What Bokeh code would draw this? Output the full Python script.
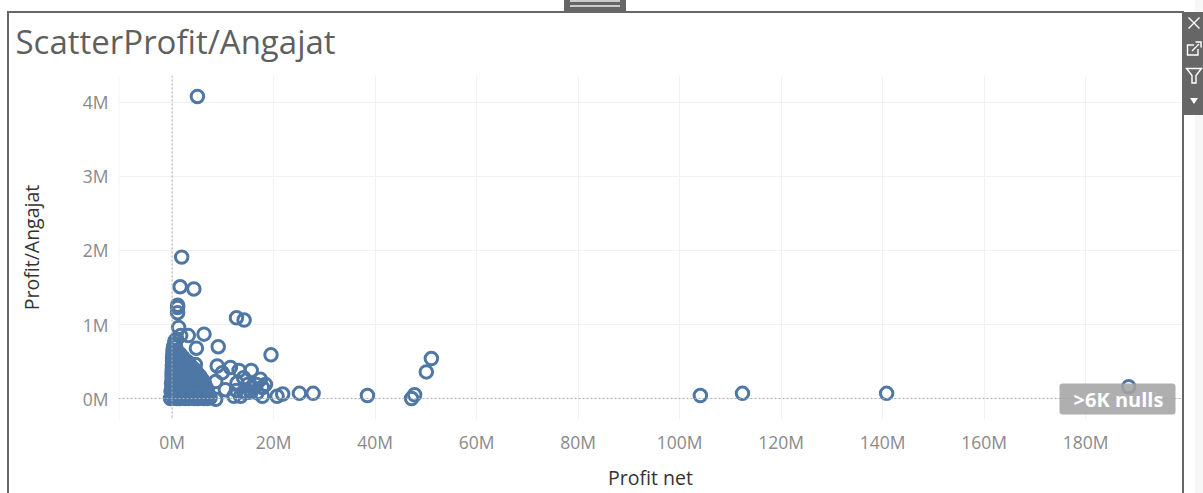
from urllib.parse import quote
from bokeh.plotting import figure
from bokeh.embed import file_html
from bokeh.resources import INLINE
from bokeh.models import Label, BoxAnnotation, Span, FixedTicker, Range1d, InlineStyleSheet

TITLE = "ScatterProfit/Angajat"
X_LABEL = "Profit net"
Y_LABEL = "Profit/Angajat"
NULLS = ">6K nulls"
x_ticks = [0, 20, 40, 60, 80, 100, 120, 140, 160, 180]
x_tick_labels = ["0M", "20M", "40M", "60M", "80M", "100M", "120M", "140M", "160M", "180M"]
y_ticks = [0, 1, 2, 3, 4]
y_tick_labels = ["0M", "1M", "2M", "3M", "4M"]

# Profit net (millions) and Profit/Angajat (millions)
cluster_x = [-0.3, 0.3, 0.9, 1.5, 2.1, 2.7, 3.3, 3.9, 4.5, 5.1, 5.7, 6.3, 6.9, 7.5,
             0.0, 0.6, 1.2, 1.8, 2.4, 3.0, 3.6, 4.2, 4.8, 5.4, 6.0, 6.6, 7.2,
             -0.2, 0.4, 1.0, 1.6, 2.2, 2.8, 3.4, 4.0, 4.6, 5.2, 5.8, 6.4, 7.0,
             0.0, 0.7, 1.3, 1.9, 2.5, 3.1, 3.7, 4.3, 4.9, 5.5, 6.1, 6.7,
             -0.1, 0.5, 1.1, 1.7, 2.3, 2.9, 3.5, 4.1, 4.7, 5.3, 5.8, 6.4,
             0.0, 0.6, 1.2, 1.8, 2.4, 3.0, 3.6, 4.2, 4.9, 5.5, 6.0,
             0.0, 0.6, 1.2, 1.8, 2.4, 3.0, 3.6, 4.4, 5.0, 5.5,
             0.0, 0.6, 1.2, 1.8, 2.4, 3.0, 3.7, 4.3, 4.9,
             0.05, 0.6, 1.2, 1.8, 2.4, 3.1, 3.7, 4.3,
             0.05, 0.6, 1.2, 1.8, 2.5, 3.1, 3.6,
             0.1, 0.6, 1.2, 1.9, 2.5, 3.0,
             0.1, 0.6, 1.2, 1.8, 2.2,
             0.15, 0.7, 1.1, 1.6,
             0.2, 0.7,
             0.3, 0.7,
             0.5,
             0.6, 0.9]
cluster_y = [0.0, 0.01, 0.0, 0.0, 0.01, 0.0, 0.0, 0.01, 0.0, 0.0, 0.01, 0.0, 0.0, 0.01,
             0.05, 0.05, 0.06, 0.05, 0.05, 0.06, 0.05, 0.05, 0.06, 0.05, 0.05, 0.04, 0.05,
             0.1, 0.1, 0.11, 0.1, 0.1, 0.11, 0.1, 0.1, 0.11, 0.1, 0.1, 0.09, 0.1,
             0.15, 0.15, 0.16, 0.15, 0.15, 0.16, 0.15, 0.15, 0.16, 0.15, 0.14, 0.15,
             0.2, 0.2, 0.21, 0.2, 0.2, 0.21, 0.2, 0.2, 0.21, 0.2, 0.2, 0.2,
             0.25, 0.25, 0.26, 0.25, 0.25, 0.26, 0.25, 0.25, 0.26, 0.25, 0.25,
             0.3, 0.3, 0.31, 0.3, 0.3, 0.31, 0.3, 0.3, 0.3, 0.3,
             0.35, 0.35, 0.36, 0.35, 0.35, 0.36, 0.35, 0.35, 0.35,
             0.4, 0.4, 0.41, 0.4, 0.4, 0.41, 0.4, 0.4,
             0.45, 0.45, 0.46, 0.45, 0.45, 0.45, 0.45,
             0.5, 0.5, 0.51, 0.5, 0.5, 0.5,
             0.55, 0.55, 0.56, 0.55, 0.55,
             0.6, 0.6, 0.61, 0.6,
             0.65, 0.65,
             0.7, 0.7,
             0.74,
             0.78, 0.8]
spread_x = [5.0, 1.9, 1.6, 4.3, 1.1, 1.1, 1.1, 12.7, 14.2, 1.3, 6.3, 3.2, 1.7, 9.1, 4.8, 19.5,
            51.1, 50.1, 8.9, 11.5, 15.6, 13.2, 9.9, 4.6, 17.4, 18.4, 8.6, 10.5, 12.8, 14.1,
            12.2, 13.5, 17.8, 8.6, 20.7, 21.8, 25.1, 27.8, 14.9, 15.9, 14.1, 16.6, 15.5,
            16.8, 12.7, 14.7, 17.8, 38.5, 47.2, 47.8, 104.1, 112.4, 140.8, 188.5]
spread_y = [4.08, 1.91, 1.51, 1.48, 1.26, 1.23, 1.16, 1.09, 1.06, 0.96, 0.87, 0.85, 0.85, 0.7, 0.68, 0.59,
            0.54, 0.36, 0.44, 0.42, 0.38, 0.38, 0.35, 0.46, 0.26, 0.19, 0.23, 0.12, 0.21, 0.28,
            0.03, 0.03, 0.03, -0.01, 0.03, 0.06, 0.07, 0.07, 0.19, 0.15, 0.09, 0.19, 0.09,
            0.08, 0.11, 0.08, 0.15, 0.04, 0.0, 0.05, 0.04, 0.07, 0.07, 0.16]

W, H = 1203, 493


def rect(l, t, r, b, c):
    return f'<rect x="{l}" y="{t}" width="{r - l}" height="{b - t}" fill="{c}"/>'


def path(d, fill="none", stroke="none"):
    return f'<path d="{d}" fill="{fill}" stroke="{stroke}" stroke-width="1.4"/>'


# Dashboard frame, tab and worksheet icons: page furniture around the plot
chrome = "".join([
    rect(1195, 0, 1203, 12, "#f7f7f7"),
    rect(1195, 115, 1203, 493, "#f7f7f7"),
    rect(7, 11, 9, 493, "#666666"),
    rect(7, 11, 1184, 13, "#666666"),
    rect(1182, 12, 1184, 493, "#666666"),
    rect(1182, 12, 1203, 115, "#666666"),
    rect(564, 0, 626, 11, "#666666"),
    rect(570, 0, 620, 2, "#cccccc"),
    rect(570, 5, 620, 7, "#cccccc"),
    path("M1188.5 17.5L1199.5 28.5M1199.5 17.5L1188.5 28.5", stroke="white"),
    path("M1194 45H1187.5V55H1198V49", stroke="white"),
    path("M1192 51L1199 44M1195.5 42H1201V47.5", stroke="white"),
    path("M1186.5 68.5H1201.5L1196 75.5V83H1192V75.5Z", stroke="white"),
    path("M1190 98H1198L1194 104Z", fill="white"),
])
svg = f'<svg xmlns="http://www.w3.org/2000/svg" width="{W}" height="{H}">{chrome}</svg>'
css = (":host::after{content:'';position:absolute;left:0;top:0;width:%dpx;height:%dpx;pointer-events:none;"
       "background:url(\"data:image/svg+xml,%s\") no-repeat;z-index:10}" % (W, H, quote(svg)))

p = figure(width=W, height=H, output_backend="svg", toolbar_location=None,
           x_range=Range1d(-10.55, 199.1), y_range=Range1d(-0.283, 4.363),
           min_border_left=118, min_border_right=21, min_border_top=75, min_border_bottom=73,
           background_fill_color="white", border_fill_color="white", outline_line_color=None,
           stylesheets=[InlineStyleSheet(css=css)])

for ax, ticks, labels in ((p.xaxis[0], x_ticks, x_tick_labels), (p.yaxis[0], y_ticks, y_tick_labels)):
    ax.ticker = FixedTicker(ticks=ticks)
    ax.major_label_overrides = dict(zip(ticks, labels))
    ax.axis_line_color = None
    ax.major_tick_line_color = None
    ax.minor_tick_line_color = None
    ax.major_tick_out = 0
    ax.major_tick_in = 0
    ax.minor_tick_out = 0
    ax.minor_tick_in = 0
    ax.major_label_text_color = "#8a8a8a"
    ax.major_label_text_font = "Open Sans"
    ax.major_label_text_font_size = "17.5px"
    ax.axis_label_text_font = "Open Sans"
    ax.axis_label_text_font_size = "19.5px"
    ax.axis_label_text_font_style = "normal"
    ax.axis_label_text_color = "#333333"
p.xaxis[0].axis_label = X_LABEL
p.yaxis[0].axis_label = Y_LABEL
p.xaxis[0].major_label_standoff = 10
p.yaxis[0].major_label_standoff = 10
p.xaxis[0].axis_label_standoff = 7
p.yaxis[0].axis_label_standoff = 35

p.grid.grid_line_color = "#f1f1f1"
p.grid.grid_line_width = 1

p.title.text = TITLE
p.title.text_font = "Open Sans"
p.title.text_font_size = "33px"
p.title.text_font_style = "normal"
p.title.text_color = "#5f5f5f"
p.title.offset = -103
p.title.standoff = 24

for dim, loc in (("width", 0), ("height", 0)):
    p.add_layout(Span(location=loc, dimension=dim, line_color="#b0b0b0", line_width=1, line_dash="2 2"))

p.scatter(cluster_x + spread_x, cluster_y + spread_y, size=12.5, marker="circle", fill_color=None,
          line_color="#4e77a5", line_width=3)


def box(l, t, r, b, color, **kw):
    p.add_layout(BoxAnnotation(left=l, right=r, top=t, bottom=b, left_units="canvas", right_units="canvas",
                               top_units="canvas", bottom_units="canvas", fill_color=color,
                               fill_alpha=kw.pop("fill_alpha", 1), line_color=None, **kw))


# plot-area edges
box(118, 75, 119, 420, "#f1f1f1", level="underlay")
box(118, 420, 1182, 421, "#f1f1f1", level="underlay")

# nulls badge
box(1059, 383, 1175, 414, "#a4a4a4", fill_alpha=0.88, border_radius=3)
p.add_layout(Label(x=1118, y=399, x_units="canvas", y_units="canvas", text=NULLS, text_align="center",
                   text_baseline="middle", text_color="white", text_font="Open Sans", text_font_style="bold",
                   text_font_size="20px"))

open("out.html", "w").write(file_html(p, INLINE))
